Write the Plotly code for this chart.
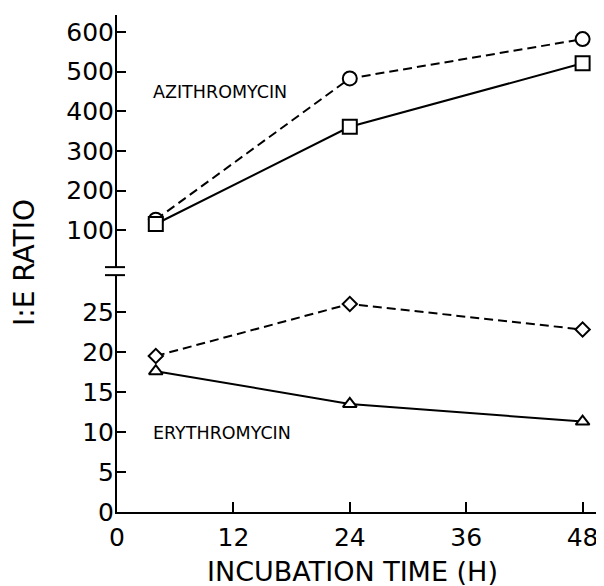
import plotly.graph_objects as go

hours = [4, 24, 48]
azi_dashed = [127, 483, 582]      # circles, dashed
azi_solid = [116, 361, 521]       # squares, solid
ery_dashed = [19.5, 26.0, 22.8]   # diamonds, dashed
ery_solid = [17.6, 13.5, 11.3]    # triangles, solid

x_ticks = [0, 12, 24, 36, 48]
top_ticks = [100, 200, 300, 400, 500, 600]
bottom_ticks = [0, 5, 10, 15, 20, 25]

FONT = "DejaVu Sans"
fig = go.Figure()

def add(y, yaxis, symbol, size, dash):
    fig.add_trace(go.Scatter(
        x=hours, y=y, xaxis="x", yaxis=yaxis, mode="lines+markers",
        line=dict(color="black", width=2, dash=dash),
        marker=dict(symbol=symbol, size=size, color="white",
                    line=dict(color="black", width=2)),
        showlegend=False, cliponaxis=False))

add(azi_dashed, "y2", "circle", 14, "9px,5px")
add(azi_solid, "y2", "square", 14, "solid")
add(ery_dashed, "y", "diamond", 11, "9px,5px")
add(ery_solid, "y", "triangle-up", 12, "solid")

axis_common = dict(showline=True, linecolor="black", linewidth=2,
                   ticks="inside", tickcolor="black", tickwidth=2,
                   showgrid=False, zeroline=False,
                   tickfont=dict(family=FONT, size=25, color="black"))

fig.update_layout(
    width=596, height=578,
    margin=dict(l=109, r=2, t=7, b=74),
    plot_bgcolor="white", paper_bgcolor="white",
    xaxis=dict(range=[0, 50], tickvals=x_ticks, ticklen=10,
               ticklabelstandoff=2, anchor="y", **axis_common),
    yaxis=dict(domain=[0, 0.4766], range=[0, 29.6], tickvals=bottom_ticks,
               ticklen=9, ticklabelstandoff=-4, anchor="x", **axis_common),
    yaxis2=dict(domain=[0.4927, 1], range=[7.3, 642.8], tickvals=top_ticks,
                ticklen=9, ticklabelstandoff=-4, anchor="x", **axis_common),
)

# axis break marks
for yref, yv in [("y domain", 1), ("y2 domain", 0)]:
    fig.add_shape(type="line", xref="paper", yref=yref,
                  x0=-0.0247, x1=0.0165, y0=yv, y1=yv,
                  line=dict(color="black", width=2))

fig.add_annotation(x=10.6, y=448, xref="x", yref="y2", text="AZITHROMYCIN",
                   showarrow=False, font=dict(family=FONT, size=17.5, color="black"))
fig.add_annotation(x=10.8, y=9.9, xref="x", yref="y", text="ERYTHROMYCIN",
                   showarrow=False, font=dict(family=FONT, size=17.5, color="black"))

fig.add_annotation(x=0.485, y=-0.119, xref="paper", yref="paper",
                   xanchor="center", yanchor="middle",
                   text="INCUBATION TIME (H)", showarrow=False,
                   font=dict(family=FONT, size=27, color="black"))
fig.add_annotation(x=-0.192, y=0.5027, xref="paper", yref="paper",
                   xanchor="center", yanchor="middle",
                   text="I:E RATIO", textangle=-90, showarrow=False,
                   font=dict(family=FONT, size=28, color="black"))

fig.write_html("out.html")
